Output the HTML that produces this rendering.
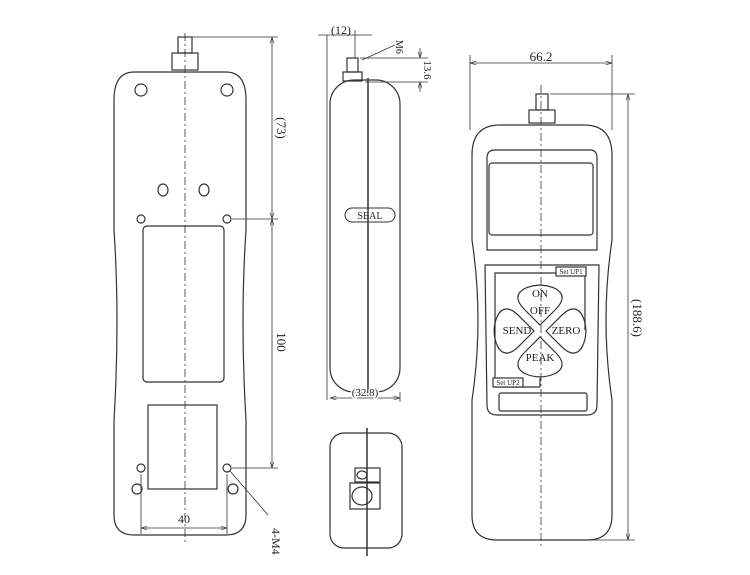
<!DOCTYPE html>
<html><head><meta charset="utf-8"><style>
html,body{margin:0;padding:0;background:#fff;width:750px;height:575px;overflow:hidden}
svg{display:block}
text{font-family:"Liberation Serif",serif;fill:#222}
</style></head><body>
<svg width="750" height="575" viewBox="0 0 750 575" xmlns="http://www.w3.org/2000/svg">
<defs>
<marker id="a" viewBox="0 0 10 6" refX="10" refY="3" markerWidth="8" markerHeight="5" orient="auto-start-reverse"><path d="M0,0 L10,3 L0,6" fill="none" stroke="#333" stroke-width="1"/></marker>
<path id="pet" d="M540,324 L522,306 Q506,290 522,281 Q540,273 558,281 Q574,290 558,306 Z"/>
</defs>
<g fill="none" stroke="#333" stroke-width="1.2">
<!-- LEFT VIEW -->
<path d="M134,72 L226,72 Q246,72 246,100 L246,230 Q240,320 246,420 L246,515 Q246,535 226,535 L134,535 Q114,535 114,515 L114,420 Q120,320 114,230 L114,100 Q114,72 134,72 Z"/>
<rect x="178" y="37" width="14" height="16"/>
<rect x="172" y="53" width="26" height="17"/>
<line x1="185" y1="33" x2="185" y2="545" stroke-dasharray="8,3,2,3" stroke-width="0.8"/>
<circle cx="141" cy="90" r="6"/><circle cx="227" cy="90" r="6"/>
<ellipse cx="163" cy="190" rx="5" ry="6"/><ellipse cx="204" cy="190" rx="5" ry="6"/>
<circle cx="141" cy="219" r="4"/><circle cx="227" cy="219" r="4"/>
<circle cx="141" cy="468" r="4"/><circle cx="227" cy="468" r="4"/>
<circle cx="137" cy="489" r="5"/><circle cx="233" cy="489" r="5"/>
<rect x="143" y="226" width="81" height="156" rx="4"/>
<rect x="148" y="405" width="69" height="84"/>
<g stroke-width="0.8">
<line x1="192" y1="37" x2="278" y2="37"/><line x1="232" y1="219" x2="278" y2="219"/><line x1="232" y1="468" x2="278" y2="468"/>
<line x1="272" y1="37" x2="272" y2="219" marker-start="url(#a)" marker-end="url(#a)"/>
<line x1="272" y1="219" x2="272" y2="468" marker-start="url(#a)" marker-end="url(#a)"/>
<line x1="141" y1="474" x2="141" y2="534"/><line x1="227" y1="474" x2="227" y2="534"/>
<line x1="141" y1="528" x2="227" y2="528" marker-start="url(#a)" marker-end="url(#a)"/>
<line x1="230" y1="471" x2="268" y2="515"/>
</g>
<!-- SIDE VIEW -->
<rect x="330" y="80" width="70" height="312" rx="24"/>
<line x1="368" y1="78" x2="368" y2="394" stroke-width="1.5"/>
<rect x="347" y="58" width="11" height="14"/>
<rect x="343" y="72" width="19" height="9"/>
<rect x="345" y="208" width="50" height="14" rx="7" stroke-width="1"/>
<g stroke-width="0.8">
<line x1="327" y1="35" x2="327" y2="400"/><line x1="355" y1="30" x2="355" y2="58"/>
<line x1="318" y1="35" x2="372" y2="35" />
<line x1="362" y1="60" x2="395" y2="45"/>
<line x1="360" y1="58" x2="428" y2="58"/><line x1="365" y1="82" x2="428" y2="82"/>
<line x1="420" y1="48" x2="420" y2="58" marker-end="url(#a)"/><line x1="420" y1="92" x2="420" y2="82" marker-end="url(#a)"/>
<line x1="400" y1="392" x2="400" y2="402"/>
<line x1="330" y1="398" x2="400" y2="398" marker-start="url(#a)" marker-end="url(#a)"/>
</g>
<!-- BOTTOM VIEW -->
<rect x="330" y="433" width="72" height="115" rx="14"/>
<line x1="367" y1="428" x2="367" y2="556" stroke-width="1.5"/>
<rect x="355" y="468" width="25" height="14"/>
<ellipse cx="362" cy="475" rx="5" ry="4"/>
<rect x="350" y="483" width="30" height="26"/>
<ellipse cx="362" cy="496" rx="10" ry="9"/>
<!-- RIGHT VIEW -->
<path d="M500,125 L584,125 Q612,125 612,155 L612,240 Q600,320 612,400 L612,515 Q612,540 587,540 L497,540 Q472,540 472,515 L472,400 Q484,320 472,240 L472,155 Q472,125 500,125 Z"/>
<rect x="536" y="94" width="12" height="16"/>
<rect x="529" y="110" width="26" height="13"/>
<path d="M487,158 Q487,150 495,150 L590,150 Q597,150 597,158 L597,250 L487,250 Z"/>
<rect x="489" y="163" width="104" height="72" rx="3"/>
<path d="M485,265 L599,265 L597,405 Q597,415 587,415 L497,415 Q487,415 487,405 Z"/>
<rect x="499" y="393" width="88" height="18" rx="2"/>
<path d="M540,273 L495,273 L495,387 L540,387 M540,273 L585,273 L585,330 M540,387 L540,378"/>
<rect x="556" y="267" width="30" height="9" fill="#fff"/>
<rect x="493" y="378" width="30" height="9" fill="#fff"/>
<g transform="translate(540 331) scale(0.85) translate(-540 -331)" stroke-width="1.4">
<use href="#pet"/>
<use href="#pet" transform="rotate(180 540 331)"/>
<use href="#pet" transform="rotate(-90 540 331)"/>
<use href="#pet" transform="rotate(90 540 331)"/>
</g>
<line x1="541" y1="85" x2="541" y2="548" stroke-dasharray="8,3,2,3" stroke-width="0.8"/>
<g stroke-width="0.8">
<line x1="470" y1="55" x2="470" y2="130"/><line x1="612" y1="55" x2="612" y2="130"/>
<line x1="470" y1="63" x2="612" y2="63" marker-start="url(#a)" marker-end="url(#a)"/>
<line x1="550" y1="94" x2="635" y2="94"/><line x1="590" y1="540" x2="635" y2="540"/>
<line x1="628" y1="94" x2="628" y2="540" marker-start="url(#a)" marker-end="url(#a)"/>
</g>
</g>
<text x="277" y="128" font-size="13" transform="rotate(90 277 128)" text-anchor="middle">(73)</text>
<text x="277" y="342" font-size="13" transform="rotate(90 277 342)" text-anchor="middle">100</text>
<text x="184" y="523" font-size="12" text-anchor="middle">40</text>
<text x="272" y="528" font-size="12" transform="rotate(90 272 528)">4-M4</text>
<text x="341" y="34" font-size="12" text-anchor="middle">(12)</text>
<text x="396" y="40" font-size="10" transform="rotate(90 396 40)">M6</text>
<text x="424" y="70" font-size="11" transform="rotate(90 424 70)" text-anchor="middle">13.6</text>
<text x="370" y="219" font-size="10" text-anchor="middle">SEAL</text>
<text x="365" y="396" font-size="11" text-anchor="middle" style="paint-order:stroke" stroke="#fff" stroke-width="3">(32.8)</text>
<text x="541" y="61" font-size="13" text-anchor="middle">66.2</text>
<text x="633" y="318" font-size="13" transform="rotate(90 633 318)" text-anchor="middle">(188.6)</text>
<text x="571" y="274" font-size="7" text-anchor="middle">Set UP1</text>
<text x="508" y="385" font-size="7" text-anchor="middle">Set UP2</text>
<text x="540" y="297" font-size="11" text-anchor="middle">ON</text>
<text x="540" y="314" font-size="11" text-anchor="middle">OFF</text>
<text x="517" y="334" font-size="11" text-anchor="middle">SEND</text>
<text x="566" y="334" font-size="11" text-anchor="middle">ZERO</text>
<text x="540" y="361" font-size="11" text-anchor="middle">PEAK</text>
</svg>
</body></html>
